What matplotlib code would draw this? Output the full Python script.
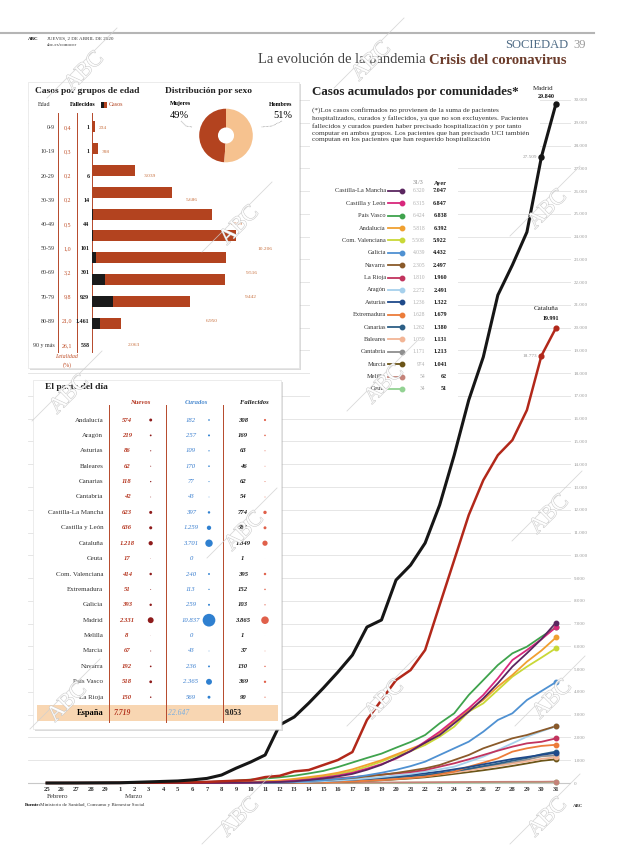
import matplotlib.pyplot as plt
import matplotlib.patheffects as pe
from matplotlib.patches import Rectangle
from matplotlib.transforms import blended_transform_factory

plt.rcParams['font.family'] = ['Liberation Serif', 'DejaVu Serif']

# ---------------- datos ----------------
dias = ['25', '26', '27', '28', '29', '1', '2', '3', '4', '5', '6', '7', '8', '9',
        '10', '11', '12', '13', '14', '15', '16', '17', '18', '19', '20', '21', '22',
        '23', '24', '25', '26', '27', '28', '29', '30', '31']

madrid = [0, 1, 2, 5, 8, 10, 29, 49, 70, 90, 137, 202, 350, 650, 920, 1230, 2550, 2900,
          3510, 4170, 4870, 5620, 6850, 7160, 8915, 9570, 10540, 12210, 14400, 16820,
          18710, 21430, 22750, 24200, 27509, 29840]
cataluna = [0, 0, 1, 2, 3, 6, 12, 15, 15, 24, 28, 49, 75, 101, 124, 260, 316, 509, 570,
            790, 1010, 1360, 2770, 3645, 4520, 4960, 5840, 7820, 9790, 11770, 13300,
            14400, 15060, 16380, 18773, 19991]

clm = [0, 0, 0, 0, 0, 0, 0, 0, 0, 2, 3, 5, 8, 12, 20, 30, 45, 75, 130, 200, 290, 400,
       580, 800, 1100, 1400, 1771, 2108, 2620, 3133, 3718, 4377, 5110, 5700, 6320, 7047]
cyl = [0, 0, 0, 0, 0, 0, 1, 2, 2, 3, 5, 6, 8, 10, 20, 35, 60, 100, 160, 240, 330, 450,
       630, 830, 1070, 1400, 1815, 2254, 2767, 3280, 3865, 4597, 5400, 5840, 6315, 6847]
pais_vasco = [0, 0, 0, 0, 0, 0, 2, 5, 10, 15, 25, 40, 70, 105, 150, 195, 250, 320, 420,
              530, 700, 900, 1100, 1290, 1550, 1800, 2108, 2620, 3060, 3865, 4520, 5180,
              5695, 5988, 6424, 6838]
andalucia = [0, 0, 1, 2, 6, 10, 12, 12, 12, 13, 15, 20, 30, 40, 55, 70, 110, 180, 260,
             340, 450, 600, 800, 1000, 1250, 1500, 1742, 2181, 2694, 3206, 3645, 4231,
             4743, 5329, 5818, 6392]
valenciana = [0, 2, 3, 4, 5, 6, 8, 10, 13, 15, 19, 20, 25, 35, 45, 60, 95, 150, 220,
              300, 400, 520, 720, 940, 1200, 1400, 1669, 2035, 2474, 3133, 3500, 4085,
              4670, 5109, 5508, 5922]
galicia = [0, 0, 0, 0, 0, 0, 0, 0, 1, 1, 2, 2, 4, 6, 10, 18, 30, 50, 85, 120, 180, 240,
           340, 450, 580, 740, 937, 1230, 1523, 1815, 2254, 2767, 3060, 3645, 4039, 4432]
navarra = [0, 0, 0, 0, 0, 0, 0, 0, 1, 1, 2, 3, 5, 10, 15, 25, 40, 70, 100, 130, 170, 220,
           290, 360, 440, 540, 644, 790, 1010, 1230, 1523, 1742, 1962, 2108, 2305, 2497]
la_rioja = [0, 0, 0, 0, 0, 0, 0, 1, 1, 2, 5, 8, 15, 25, 40, 60, 80, 100, 130, 170, 210,
            260, 310, 370, 420, 480, 570, 717, 864, 1040, 1230, 1420, 1596, 1742, 1810, 1960]
aragon = [0, 0, 1, 1, 1, 1, 1, 2, 2, 3, 4, 5, 5, 10, 15, 20, 30, 40, 55, 80, 110, 150,
          200, 260, 330, 400, 498, 600, 717, 937, 1157, 1450, 1742, 2035, 2272, 2491]
asturias = [0, 0, 0, 0, 0, 0, 1, 1, 1, 2, 2, 3, 4, 5, 5, 10, 15, 30, 55, 80, 110, 150,
            190, 240, 300, 360, 425, 500, 600, 700, 820, 937, 1054, 1142, 1236, 1322]
extremadura = [0, 0, 0, 0, 0, 0, 0, 0, 0, 1, 2, 3, 5, 5, 5, 6, 8, 10, 20, 35, 50, 70,
               100, 130, 170, 220, 278, 380, 498, 717, 893, 1083, 1376, 1523, 1628, 1679]
canarias = [1, 2, 3, 5, 6, 6, 6, 6, 6, 7, 7, 8, 8, 8, 10, 15, 20, 30, 45, 65, 90, 120,
            160, 200, 250, 300, 350, 430, 520, 620, 740, 850, 980, 1100, 1262, 1380]
baleares = [0, 1, 1, 2, 2, 2, 2, 2, 2, 3, 4, 5, 5, 6, 6, 10, 15, 25, 35, 50, 70, 90, 120,
            160, 200, 250, 300, 380, 460, 550, 650, 750, 850, 950, 1059, 1131]
cantabria = [0, 0, 0, 0, 0, 0, 0, 1, 1, 1, 2, 3, 5, 7, 8, 10, 12, 15, 20, 35, 50, 70,
             100, 130, 180, 230, 300, 400, 500, 600, 700, 800, 900, 1020, 1171, 1213]
murcia = [0, 0, 0, 0, 0, 0, 0, 0, 0, 1, 2, 3, 5, 6, 8, 10, 12, 15, 20, 30, 45, 65, 90,
          120, 160, 200, 250, 320, 400, 480, 560, 650, 750, 860, 974, 1041]
melilla = [0, 0, 0, 0, 0, 0, 0, 0, 0, 0, 0, 0, 0, 0, 1, 1, 2, 3, 5, 8, 10, 13, 16, 20,
           24, 28, 32, 36, 40, 44, 47, 50, 52, 53, 54, 62]
ceuta = [0, 0, 0, 0, 0, 0, 0, 0, 0, 0, 0, 0, 0, 0, 0, 0, 0, 1, 1, 2, 3, 4, 5, 6, 8, 10,
         12, 15, 18, 21, 24, 27, 29, 31, 34, 51]

comunidades = ['Castilla-La Mancha', 'Castilla y León', 'País Vasco', 'Andalucía',
               'Com. Valenciana', 'Galicia', 'Navarra', 'La Rioja', 'Aragón', 'Asturias',
               'Extremadura', 'Canarias', 'Baleares', 'Cantabria', 'Murcia', 'Melilla', 'Ceuta']
series = [clm, cyl, pais_vasco, andalucia, valenciana, galicia, navarra, la_rioja, aragon,
          asturias, extremadura, canarias, baleares, cantabria, murcia, melilla, ceuta]
colores = ['#5b2660', '#d8287c', '#3fa34d', '#f0a030', '#c9d837', '#4f91d2', '#8a5a2a',
           '#c2345e', '#a6d0ec', '#1f4a8a', '#ec7c3a', '#2d5f86', '#f2b596', '#8f8f8f',
           '#6b5518', '#c5837a', '#93d293']
dato_31_3 = [6320, 6315, 6424, 5818, 5508, 4039, 2305, 1810, 2272, 1236, 1628, 1262,
             1059, 1171, 974, 54, 34]
dato_ayer = [7047, 6847, 6838, 6392, 5922, 4432, 2497, 1960, 2491, 1322, 1679, 1380,
             1131, 1213, 1041, 62, 51]

edades = ['0-9', '10-19', '20-29', '30-39', '40-49', '50-59', '60-69', '70-79', '80-89',
          '90 y más']
letalidad = [0.4, 0.3, 0.2, 0.2, 0.5, 1.0, 3.2, 9.8, 21.0, 26.1]
fallecidos_edad = [1, 1, 6, 14, 44, 101, 301, 929, 1461, 538]
casos_edad = [234, 398, 3039, 5686, 8539, 10206, 9516, 9442, 6950, 2063]

sexo = ['Mujeres', 'Hombres']
sexo_pct = [49, 51]

parte_ccaa = ['Andalucía', 'Aragón', 'Asturias', 'Baleares', 'Canarias', 'Cantabria',
              'Castilla-La Mancha', 'Castilla y León', 'Cataluña', 'Ceuta',
              'Com. Valenciana', 'Extremadura', 'Galicia', 'Madrid', 'Melilla', 'Murcia',
              'Navarra', 'País Vasco', 'La Rioja']
parte_nuevos = [574, 219, 86, 62, 118, 42, 623, 636, 1218, 17, 414, 51, 393, 2331, 8, 67,
                192, 518, 150]
parte_curados = [182, 257, 109, 170, 77, 43, 397, 1259, 3701, 0, 240, 113, 259, 10837, 0,
                 43, 236, 2365, 569]
parte_fallecidos = [308, 169, 63, 46, 62, 54, 774, 585, 1849, 1, 395, 152, 103, 3865, 1,
                    37, 130, 369, 90]
espana = [7719, 22647, 9053]


def fmt(v):
    return f'{v:,}'.replace(',', '.')


W, H = 620, 846
ROJO = '#b3431f'


def rect(x0, y0, x1, y1):
    return [x0 / W, 1 - y1 / H, (x1 - x0) / W, (y1 - y0) / H]


fig = plt.figure(figsize=(6.2, 8.46), dpi=100)

canvas = fig.add_axes([0, 0, 1, 1], zorder=2)
canvas.set_xlim(0, W)
canvas.set_ylim(H, 0)
canvas.axis('off')
canvas.patch.set_alpha(0)

# ---------------- grafico principal ----------------
ax = fig.add_axes(rect(28, 90, 571, 786), zorder=1)
ax.patch.set_alpha(0)
x_a, x_b = 47, 556
px_dia = (x_b - x_a) / 35
y_a, y_b = 783, 100
px_caso = (y_a - y_b) / 30000
ax.set_xlim((28 - x_a) / px_dia, (571 - x_a) / px_dia)
ax.set_ylim((y_a - 786) / px_caso, (y_a - 90) / px_caso)
ax.set_axisbelow(True)
for s in ax.spines.values():
    s.set_visible(False)
ticks_y = list(range(0, 30001, 1000))
ax.set_yticks(ticks_y)
ax.set_yticklabels([fmt(t) for t in ticks_y])
ax.yaxis.tick_right()
ax.tick_params(axis='y', length=0, pad=2, labelsize=3.6, labelcolor='#9a9a9a')
ax.set_xticks(range(len(dias)))
ax.set_xticklabels(dias, fontsize=4.8, fontweight='bold', color='#333333')
ax.tick_params(axis='x', length=0, pad=1)
ax.grid(axis='y', color='#e2e2e2', lw=0.6)
ax.axhline(0, color='#c8c8c8', lw=0.8, zorder=0.6)

# cajas blancas para nota y leyenda
for (x0, y0, x1, y1) in [(310, 82, 540, 150), (310, 160, 458, 398)]:
    ax.add_patch(Rectangle((x0, y0), x1 - x0, y1 - y0, fc='white', ec='none',
                           transform=canvas.transData, zorder=1, clip_on=False))

x = list(range(len(dias)))
for serie, col in reversed(list(zip(series, colores))):
    ax.plot(x, serie, color=col, lw=1.3, zorder=3, solid_joinstyle='round')
    ax.plot(x[-1], serie[-1], 'o', color=col, ms=3.2, zorder=4)
ax.plot(x, cataluna, color='#b2281a', lw=1.8, zorder=5, solid_joinstyle='round')
ax.plot(x[-2:], cataluna[-2:], 'o', color='#b2281a', ms=3.4, zorder=5)
ax.plot(x, madrid, color='#161616', lw=2.2, zorder=6, solid_joinstyle='round')
ax.plot(x[-2:], madrid[-2:], 'o', color='#161616', ms=3.6, zorder=6)

ax.annotate('Madrid', (x[-1], madrid[-1]), xytext=(-1.5, 9), textcoords='offset points',
            ha='right', va='bottom', fontsize=5, color='#222')
ax.annotate(fmt(madrid[-1]), (x[-1], madrid[-1]), xytext=(-1, 3), textcoords='offset points',
            ha='right', va='bottom', fontsize=4.4, fontweight='bold', color='#111')
ax.annotate(fmt(madrid[-2]), (x[-2], madrid[-2]), xytext=(-3, 0), textcoords='offset points',
            ha='right', va='center', fontsize=3.8, color='#999')
ax.annotate('Cataluña', (x[-1], cataluna[-1]), xytext=(2, 12), textcoords='offset points',
            ha='right', va='bottom', fontsize=5, color='#222')
ax.annotate(fmt(cataluna[-1]), (x[-1], cataluna[-1]), xytext=(2.5, 5), textcoords='offset points',
            ha='right', va='bottom', fontsize=4.4, fontweight='bold', color='#111')
ax.annotate(fmt(cataluna[-2]), (x[-2], cataluna[-2]), xytext=(-3, 0), textcoords='offset points',
            ha='right', va='center', fontsize=3.8, color='#999')

tr = blended_transform_factory(ax.transData, canvas.transData)
ax.text(0.75, 797, 'Febrero', transform=tr, ha='center', va='center', fontsize=5, color='#333')
ax.text(6, 797, 'Marzo', transform=tr, ha='center', va='center', fontsize=5, color='#333')

# titulo y nota
canvas.text(312, 92, 'Casos acumulados por comunidades*', fontsize=9.4, fontweight='bold',
            va='center', color='#222')
nota = ('(*)Los casos confirmados no provienen de la suma de pacientes\n'
        'hospitalizados, curados y fallecidos, ya que no son excluyentes. Pacientes\n'
        'fallecidos y curados pueden haber precisado hospitalización y por tanto\n'
        'computar en ambos grupos. Los pacientes que han precisado UCI también\n'
        'computan en los pacientes que han requerido hospitalización')
canvas.text(312, 107.5, nota, fontsize=5.2, va='top', linespacing=1.45, color='#333')

# leyenda
canvas.text(418, 183, '31/3', fontsize=4.3, ha='center', va='center', color='#888')
canvas.text(440, 183, 'Ayer', fontsize=4.6, ha='center', va='center', fontweight='bold',
            color='#222')
for i, (nom, col) in enumerate(zip(comunidades, colores)):
    yy = 191 + 12.375 * i
    canvas.text(386, yy, nom, fontsize=4.6, ha='right', va='center', color='#333')
    canvas.plot([388, 401], [yy, yy], color=col, lw=1.3)
    canvas.plot(402, yy, 'o', color=col, ms=3.2)
    canvas.text(425, yy, fmt(dato_31_3[i]), fontsize=4, ha='right', va='center', color='#b0b0b0')
    canvas.text(447, yy, fmt(dato_ayer[i]), fontsize=4.4, ha='right', va='center',
                fontweight='bold', color='#1a1a1a')


def panel(x0, y0, x1, y1):
    canvas.add_patch(Rectangle((x0 + 1.5, y0 + 2), x1 - x0, y1 - y0, fc='#b0b0b0',
                               ec='none', alpha=0.45, zorder=1))
    canvas.add_patch(Rectangle((x0, y0), x1 - x0, y1 - y0, fc='white', ec='#e4e4e4',
                               lw=0.5, zorder=2))


# ---------------- panel edades y sexo ----------------
panel(28, 82, 299, 368)
canvas.text(35, 91, 'Casos por grupos de edad', fontsize=6.8, fontweight='bold',
            va='center', color='#222', zorder=5)
canvas.text(165, 91, 'Distribución por sexo', fontsize=6.8, fontweight='bold',
            va='center', color='#222', zorder=5)
canvas.text(38, 105, 'Edad', fontsize=4.3, va='center', color='#333', zorder=5)
canvas.text(70, 105, 'Fallecidos', fontsize=4.3, va='center', fontweight='bold', zorder=5)
canvas.add_patch(Rectangle((100.5, 102), 3, 6, fc='#1a1a1a', zorder=5))
canvas.add_patch(Rectangle((103.5, 102), 3.5, 6, fc=ROJO, zorder=5))
canvas.text(109, 105, 'Casos', fontsize=4.3, va='center', color=ROJO, zorder=5)
for xl in [57.5, 77, 91.5]:
    canvas.plot([xl, xl], [113, 352], color='#b5482a', lw=0.7, zorder=5)
for i, ed in enumerate(edades):
    yy = 127.7 + 24.2 * i
    canvas.text(55, yy, ed, fontsize=4.3, ha='right', va='center', color='#333', zorder=5)
    canvas.text(67, yy, f'{letalidad[i]:.1f}'.replace('.', ','), fontsize=4.3, ha='center',
                va='center', color='#c0502a', zorder=5)
    canvas.text(89.5, yy, fmt(fallecidos_edad[i]), fontsize=4.3, ha='right', va='center',
                fontweight='bold', color='#1a1a1a', zorder=5)
canvas.text(67, 357, 'Letalidad', fontsize=4.3, ha='center', va='center', style='italic',
            color='#c0502a', zorder=5)
canvas.text(67, 365, '(%)', fontsize=4.3, ha='center', va='center', color='#c0502a', zorder=5)

axb = fig.add_axes(rect(92, 115, 298, 355), zorder=3)
axb.axis('off')
px_bar = 144 / 10206
axb.set_xlim(0, (298 - 92) / px_bar)
axb.set_ylim(355, 115)
ybar = [127 + 21.8 * i for i in range(len(edades))]
axb.barh(ybar, casos_edad, height=11, color=ROJO)
axb.barh(ybar, fallecidos_edad, height=11, color='#1a1a1a')
for i, v in enumerate(casos_edad):
    axb.text(212 + 1.127 * v, 127.7 + 24.2 * i, fmt(v), fontsize=3.9, ha='left',
             va='center', color='#c8703e')

axd = fig.add_axes(rect(192.5, 102, 259.5, 169), zorder=3)
axd.pie(sexo_pct, colors=[ROJO, '#f6c28f'], startangle=90, counterclock=True,
        wedgeprops=dict(width=0.7, edgecolor='none'))
axd.set_aspect('equal')
canvas.text(170, 104, sexo[0], fontsize=4.3, fontweight='bold', va='center', zorder=5)
canvas.text(170, 116, f'{sexo_pct[0]}%', fontsize=7.5, va='center', zorder=5)
canvas.text(292, 104, sexo[1], fontsize=4.3, fontweight='bold', ha='right', va='center', zorder=5)
canvas.text(292, 116, f'{sexo_pct[1]}%', fontsize=7.5, ha='right', va='center', zorder=5)
canvas.plot([181, 186, 192], [121, 126, 127], ls=(0, (1, 1)), color='#888', lw=0.5, zorder=5)
canvas.plot([282, 272, 261], [121, 126, 127], ls=(0, (1, 1)), color='#888', lw=0.5, zorder=5)

# ---------------- el parte del dia ----------------
panel(33, 380, 281, 729)
canvas.text(45, 387, 'El parte del día', fontsize=6.8, fontweight='bold', va='center',
            color='#222', zorder=5)
canvas.text(140, 402, 'Nuevos', fontsize=4.8, ha='center', va='center', style='italic',
            fontweight='bold', color='#b5351f', zorder=5)
canvas.text(196, 402, 'Curados', fontsize=4.8, ha='center', va='center', style='italic',
            fontweight='bold', color='#4a8ad0', zorder=5)
canvas.text(254, 402, 'Fallecidos', fontsize=4.8, ha='center', va='center', style='italic',
            fontweight='bold', color='#1a1a1a', zorder=5)
canvas.add_patch(Rectangle((37, 705), 241, 16, fc='#f8d6b2', ec='none', zorder=3))
for xl in [109.3, 166, 223.3]:
    canvas.plot([xl, xl], [405, 722], color='#b5482a', lw=0.7, zorder=5)
ys = [420 + 15.4 * i for i in range(len(parte_ccaa))]
for i, nom in enumerate(parte_ccaa):
    yy = ys[i]
    canvas.text(103.3, yy, nom, fontsize=5, ha='right', va='center', color='#333', zorder=5)
    canvas.text(127, yy, fmt(parte_nuevos[i]), fontsize=4.8, ha='center', va='center',
                style='italic', fontweight='bold', color='#b5351f', zorder=5)
    canvas.text(191, yy, fmt(parte_curados[i]), fontsize=4.8, ha='center', va='center',
                style='italic', color='#3a7fcf', zorder=5)
    canvas.text(243, yy, fmt(parte_fallecidos[i]), fontsize=4.8, ha='center', va='center',
                style='italic', fontweight='bold', color='#1a1a1a', zorder=5)
k = 83.6 / 10837
canvas.scatter([150.7] * len(ys), ys, s=[k * v for v in parte_nuevos], color='#8e1b1b',
               lw=0, zorder=5)
canvas.scatter([209] * len(ys), ys, s=[k * v for v in parte_curados], color='#2f80d0',
               lw=0, zorder=5)
canvas.scatter([265] * len(ys), ys, s=[k * v for v in parte_fallecidos], color='#e0604a',
               lw=0, zorder=5)
ye = 420 + 15.4 * len(parte_ccaa)
canvas.text(103.3, ye, 'España', fontsize=6, ha='right', va='center', fontweight='bold', zorder=5)
canvas.text(114, ye, fmt(espana[0]), fontsize=5.5, va='center', style='italic',
            fontweight='bold', color='#b5351f', zorder=5)
canvas.text(168, ye, fmt(espana[1]), fontsize=5.5, va='center', style='italic',
            color='#7aaee0', zorder=5)
canvas.text(225, ye, fmt(espana[2]), fontsize=5.5, va='center', fontweight='bold',
            color='#1a1a1a', zorder=5)

# ---------------- cabecera y pie ----------------
canvas.plot([0, 594], [33, 33], color='#b5b5b5', lw=1.5)
canvas.text(28, 39, 'ABC', fontsize=3.6, fontweight='bold', va='center')
canvas.text(47, 39, 'JUEVES, 2 DE ABRIL DE 2020', fontsize=3.6, va='center', color='#333')
canvas.text(47, 45, 'abc.es/conocer', fontsize=3.6, va='center', color='#333')
canvas.text(568, 45, 'SOCIEDAD', fontsize=9, ha='right', va='center', color='#4f6c86')
canvas.text(573, 45, '39', fontsize=9, va='center', color='#9a9a9a')
canvas.text(426, 60, 'La evolución de la pandemia', fontsize=10.5, ha='right', va='center',
            color='#444')
canvas.text(429, 60, 'Crisis del coronavirus', fontsize=10.5, fontweight='bold',
            va='center', color='#6b3b2a')
canvas.text(25, 805, 'Fuente:', fontsize=3.6, fontweight='bold', va='center')
canvas.text(40, 805, 'Ministerio de Sanidad, Consumo y Bienestar Social', fontsize=3.6,
            va='center', color='#333')
canvas.text(578, 806, 'ABC', fontsize=3.5, fontweight='bold', ha='center', va='center',
            color='#333')

# ---------------- marcas de agua ----------------
wm = fig.add_axes([0, 0, 1, 1], zorder=10)
wm.set_xlim(0, W)
wm.set_ylim(H, 0)
wm.axis('off')
wm.patch.set_alpha(0)
contorno = [pe.Stroke(linewidth=0.7, foreground='#c4c4c4'), pe.Normal()]
for (mx, my) in [(85, 72), (372, 62), (240, 226), (548, 210), (70, 395), (385, 385),
                 (245, 532), (550, 515), (68, 703), (385, 700), (553, 700), (240, 818),
                 (548, 818)]:
    t = wm.text(mx, my, 'ABC', rotation=45, fontsize=16, color='white', ha='center',
                va='center', alpha=0.9)
    t.set_path_effects(contorno)
    wm.plot([mx - 38, mx + 32], [my + 26, my - 44], color='#cfcfcf', lw=0.6, alpha=0.8)

fig.savefig('out.png', dpi=100)
